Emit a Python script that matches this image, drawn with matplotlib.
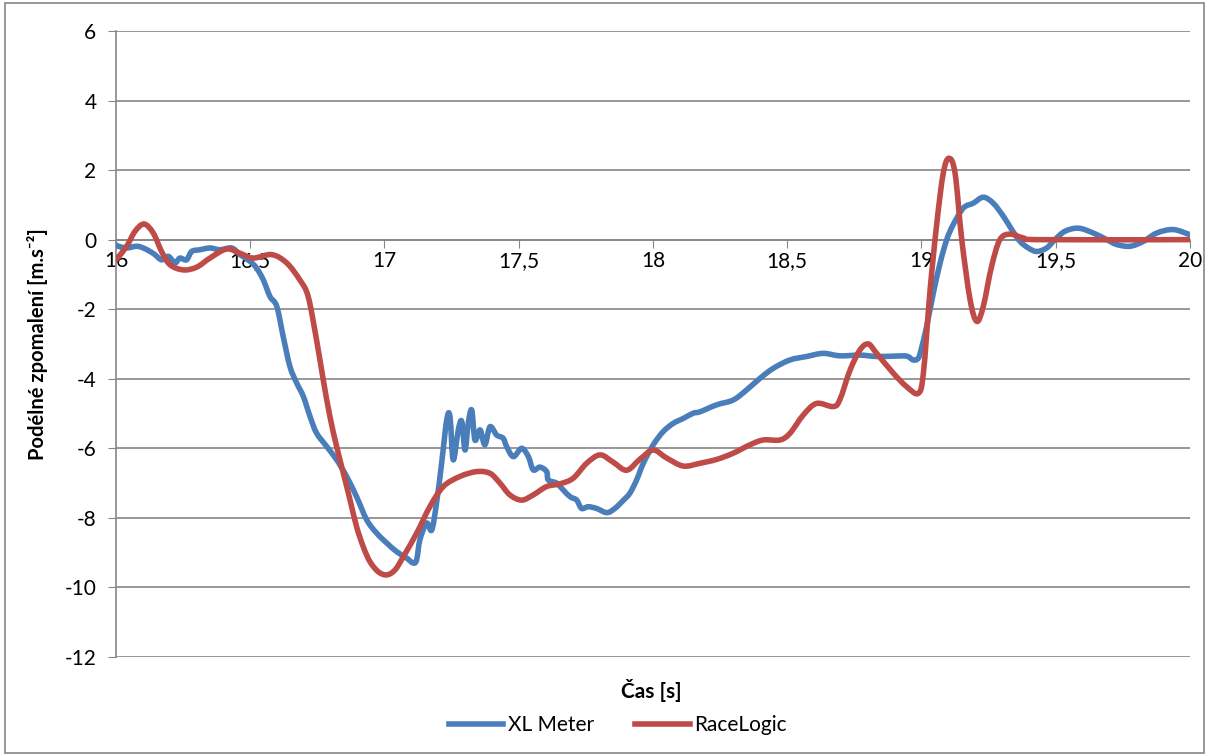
import numpy as np
import matplotlib
matplotlib.use('Agg')
from matplotlib import pyplot as plt
from matplotlib.patches import Rectangle, PathPatch
from matplotlib.path import Path
from matplotlib.lines import Line2D
from matplotlib.ticker import FuncFormatter

plt.rcParams['font.family'] = ['Lato', 'DejaVu Sans']

# XL Meter (blue)
t_xl = [16.000, 16.009, 16.040, 16.077, 16.102, 16.127, 16.145, 16.170, 16.195, 16.220,
        16.238, 16.263, 16.282, 16.313, 16.350, 16.387, 16.431, 16.462, 16.499, 16.524,
        16.549, 16.574, 16.599, 16.623, 16.648, 16.673, 16.698, 16.723, 16.747, 16.785,
        16.822, 16.859, 16.896, 16.934, 16.971, 17.008, 17.045, 17.083, 17.107, 17.120,
        17.132, 17.157, 17.176, 17.194, 17.213, 17.232, 17.244, 17.256, 17.275, 17.288,
        17.300, 17.312, 17.325, 17.337, 17.356, 17.374, 17.393, 17.418, 17.442, 17.455,
        17.480, 17.511, 17.536, 17.554, 17.579, 17.604, 17.610, 17.641, 17.666, 17.691,
        17.716, 17.734, 17.759, 17.790, 17.828, 17.858, 17.889, 17.914, 17.939, 17.964,
        18.001, 18.038, 18.076, 18.113, 18.150, 18.175, 18.237, 18.299, 18.349, 18.398,
        18.448, 18.510, 18.572, 18.634, 18.696, 18.771, 18.833, 18.895, 18.945, 18.969,
        18.988, 19.000, 19.019, 19.044, 19.069, 19.094, 19.118, 19.156, 19.193, 19.230,
        19.267, 19.305, 19.336, 19.367, 19.398, 19.429, 19.466, 19.497, 19.534, 19.584,
        19.640, 19.690, 19.727, 19.777, 19.826, 19.876, 19.938, 20.000]
a_xl = [-0.15, -0.19, -0.24, -0.19, -0.24, -0.34, -0.43, -0.58, -0.48, -0.67,
        -0.53, -0.58, -0.34, -0.29, -0.24, -0.29, -0.24, -0.43, -0.62, -0.82,
        -1.16, -1.64, -1.92, -2.79, -3.65, -4.12, -4.51, -5.09, -5.56, -5.95,
        -6.33, -6.81, -7.39, -8.06, -8.44, -8.72, -8.97, -9.16, -9.30, -9.20,
        -8.63, -8.15, -8.35, -7.57, -6.42, -5.18, -5.09, -6.33, -5.47, -5.23,
        -6.05, -5.28, -4.90, -5.76, -5.47, -5.90, -5.38, -5.62, -5.71, -5.95,
        -6.24, -6.00, -6.24, -6.62, -6.54, -6.67, -6.91, -7.00, -7.20, -7.39,
        -7.49, -7.73, -7.68, -7.73, -7.85, -7.73, -7.50, -7.29, -6.91, -6.43,
        -5.90, -5.52, -5.28, -5.14, -4.99, -4.95, -4.75, -4.61, -4.32, -3.99,
        -3.70, -3.46, -3.36, -3.27, -3.34, -3.32, -3.36, -3.35, -3.35, -3.46,
        -3.41, -3.12, -2.50, -1.54, -0.68, 0.00, 0.43, 0.91, 1.05, 1.22,
        1.05, 0.67, 0.29, -0.05, -0.24, -0.34, -0.24, 0.00, 0.24, 0.33,
        0.19, 0.00, -0.14, -0.19, -0.05, 0.19, 0.29, 0.14]

# RaceLogic (red)
t_rl = [16.000, 16.040, 16.071, 16.105, 16.139, 16.170, 16.201, 16.251, 16.301, 16.350,
        16.412, 16.462, 16.511, 16.580, 16.636, 16.685, 16.716, 16.747, 16.772, 16.797,
        16.822, 16.847, 16.872, 16.896, 16.921, 16.946, 16.977, 17.008, 17.039, 17.070,
        17.120, 17.169, 17.219, 17.281, 17.343, 17.393, 17.430, 17.467, 17.511, 17.554,
        17.604, 17.654, 17.703, 17.753, 17.803, 17.852, 17.902, 17.952, 18.001, 18.051,
        18.113, 18.175, 18.237, 18.299, 18.361, 18.411, 18.473, 18.510, 18.560, 18.609,
        18.671, 18.696, 18.734, 18.771, 18.802, 18.833, 18.895, 18.945, 18.988, 19.007,
        19.032, 19.057, 19.081, 19.102, 19.125, 19.150, 19.181, 19.206, 19.230, 19.261,
        19.292, 19.330, 19.379, 19.441, 20.000]
a_rl = [-0.58, -0.19, 0.24, 0.45, 0.19, -0.34, -0.72, -0.87, -0.79, -0.53,
        -0.27, -0.39, -0.53, -0.43, -0.67, -1.16, -1.64, -2.88, -4.03, -5.09,
        -5.95, -6.72, -7.49, -8.25, -8.83, -9.26, -9.55, -9.64, -9.50, -9.12,
        -8.44, -7.68, -7.10, -6.81, -6.67, -6.72, -7.00, -7.34, -7.49, -7.34,
        -7.10, -7.02, -6.86, -6.43, -6.19, -6.40, -6.63, -6.31, -6.05, -6.28,
        -6.51, -6.43, -6.32, -6.14, -5.90, -5.76, -5.76, -5.57, -5.04, -4.71,
        -4.80, -4.60, -3.75, -3.17, -3.00, -3.27, -3.84, -4.23, -4.42, -3.84,
        -1.45, 0.47, 1.91, 2.34, 1.91, 0.00, -1.73, -2.35, -1.92, -0.77,
        0.00, 0.16, 0.05, 0.00, 0.00]

x_ticks = np.arange(16, 20.01, 0.5)
y_ticks = np.arange(-12, 6.01, 2)


def smooth_path(x, y):
    # Excel-like smoothed line: Catmull-Rom segments as cubic Bezier curves
    p = np.column_stack([x, y])
    p = np.vstack([p[0], p, p[-1]])
    verts = [p[1]]
    codes = [Path.MOVETO]
    for i in range(1, len(p) - 2):
        c1 = p[i] + (p[i + 1] - p[i - 1]) / 6
        c2 = p[i + 1] - (p[i + 2] - p[i]) / 6
        verts += [c1, c2, p[i + 1]]
        codes += [Path.CURVE4] * 3
    return Path(verts, codes)


fig = plt.figure(figsize=(12.09, 7.56), dpi=100)
ax = fig.add_axes([0.0959, 0.131, 0.8884, 0.828])

grid_c = '#868686'
blue = '#4A7EBB'
red = '#BE4B48'
lw = 4.0

for t, a, c, z in [(t_xl, a_xl, blue, 3), (t_rl, a_rl, red, 4)]:
    ax.add_patch(PathPatch(smooth_path(t, a), fill=False, edgecolor=c, lw=lw,
                           joinstyle='round', capstyle='round', zorder=z))

ax.set_xlim(16, 20)
ax.set_ylim(-12, 6)
ax.set_yticks(y_ticks)
ax.set_xticks(x_ticks)
ax.yaxis.grid(True, color=grid_c, lw=1.2)
ax.set_axisbelow(True)

for s in ['top', 'right']:
    ax.spines[s].set_visible(False)
ax.spines['left'].set_color(grid_c)
ax.spines['left'].set_linewidth(1.2)
ax.spines['bottom'].set_position(('data', 0))
ax.spines['bottom'].set_color(grid_c)
ax.spines['bottom'].set_linewidth(1.2)

ax.xaxis.set_major_formatter(FuncFormatter(lambda v, p: f'{v:g}'.replace('.', ',')))
ax.yaxis.set_major_formatter(FuncFormatter(lambda v, p: f'{v:g}'))
ax.tick_params(axis='x', direction='out', length=6, color=grid_c, labelsize=15, pad=2)
ax.tick_params(axis='y', direction='out', length=6, color=grid_c, labelsize=15, pad=8)

ax.set_ylabel('Podélné zpomalení [m.s⁻²]', fontsize=14.5,
              fontweight='bold', labelpad=12)
fig.text(0.539, 0.087, 'Čas [s]', ha='center', va='center', fontsize=15,
         fontweight='bold')
handles = [Line2D([], [], color=blue, lw=lw), Line2D([], [], color=red, lw=lw)]
fig.legend(handles, ['XL Meter', 'RaceLogic'], loc='center',
           bbox_to_anchor=(0.511, 0.041), ncol=2, frameon=False,
           fontsize=15, handlelength=2.6, columnspacing=2.0, handletextpad=0.2)

fig.patches.append(Rectangle((0.004, 0.004), 0.992, 0.992, transform=fig.transFigure,
                             fill=False, edgecolor=grid_c, lw=1.2))

plt.savefig('out.png', dpi=100)
